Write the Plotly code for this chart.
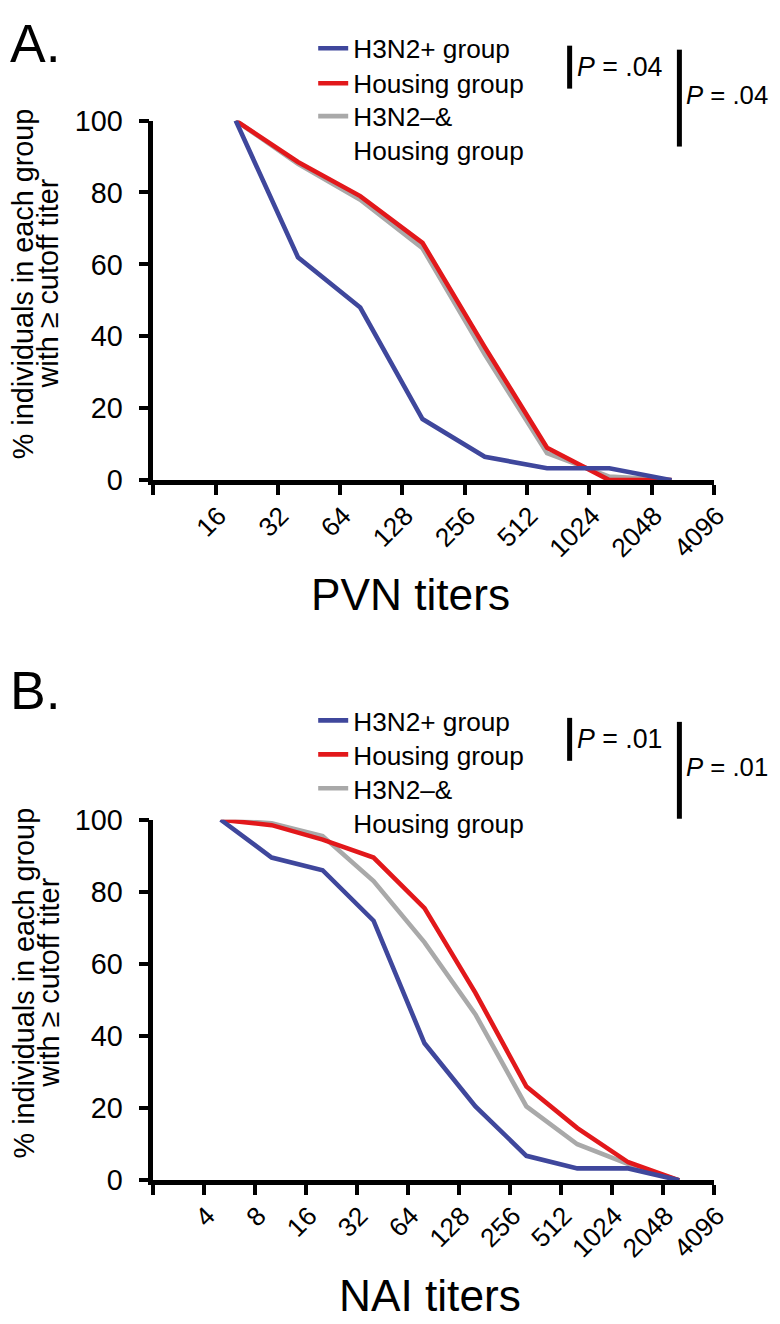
import plotly.graph_objects as go

# Datos (porcentaje con titulo >= corte)
pvn_x = [20, 40, 80, 160, 320, 640, 1280, 2560]
pvn_h3n2 = [100, 62, 48, 17, 6.5, 3.3, 3.3, 0]
pvn_housing = [100, 88.5, 79, 66, 37, 9, 0, 0]
pvn_h3n2neg = [100, 88, 78, 64.5, 35, 7.5, 1, 0]

nai_x = [5, 10, 20, 40, 80, 160, 320, 640, 1280, 2560]
nai_h3n2 = [100, 89.5, 86, 72, 38, 20.5, 6.8, 3.3, 3.3, 0]
nai_housing = [100, 98.5, 94.5, 89.5, 75.5, 52, 26, 14.5, 5, 0]
nai_h3n2neg = [100, 99, 95.5, 83, 66, 46, 20.5, 10, 4.5, 0]

pvn_ticks = [8, 16, 32, 64, 128, 256, 512, 1024, 2048, 4096]
nai_ticks = [2, 4, 8, 16, 32, 64, 128, 256, 512, 1024, 2048, 4096]

nombres = ['H3N2+ group', 'Housing group', 'H3N2\u2013&<br>Housing group']
colores = ['#3f479c', '#e2181b', '#a9a9a9']

W, H = 780, 1324
FONT = 'Liberation Sans, Arial, sans-serif'

# la captura sale algo desplazada/escalada respecto a la figura: se compensa
SX, OX, SY, OY = 0.967, 7.3, 0.977, 22.3


def px(X, Y):
    """Coordenadas de la referencia (pixeles) -> coordenadas paper."""
    return ((X - OX) / SX) / W, 1 - ((Y - OY) / SY) / H


def F(s):
    return s / 0.972


fig = go.Figure()

paneles = [
    (pvn_x, [pvn_h3n2, pvn_housing, pvn_h3n2neg], 'x', 'y', ['legend', 'legend2', 'legend3']),
    (nai_x, [nai_h3n2, nai_housing, nai_h3n2neg], 'x2', 'y2', ['legend4', 'legend5', 'legend6']),
]

for xs, series, xa, ya, legs in paneles:
    # gris abajo, luego rojo, azul encima
    for i in [2, 1, 0]:
        fig.add_trace(go.Scatter(
            x=xs, y=series[i], mode='lines', name=nombres[i],
            line=dict(color=colores[i], width=4.6),
            xaxis=xa, yaxis=ya, legend=legs[i]
        ))

x0, x1 = px(151, 0)[0], px(705, 0)[0]
ejes = dict(showline=True, linewidth=4.6, linecolor='black', ticks='outside',
            ticklen=10, tickwidth=4, tickcolor='black', showgrid=False,
            zeroline=False, tickfont=dict(size=F(28), color='black', family=FONT))

ejex = dict(ejes, type='log', tickangle=-45, tickfont=dict(size=F(25.5), color='black', family=FONT),
            ticklabelstandoff=-5, ticklabelshift=3)

# una leyenda por entrada para fijar el espaciado de filas
leyendas = {}
filas = [(47, 82, 132), (720, 754, 805)]
for k, (r1, r2, r3) in enumerate(filas):
    for j, yy in enumerate([r1, r2, r3]):
        nombre = 'legend' + ('' if k * 3 + j == 0 else str(k * 3 + j + 1))
        leyendas[nombre] = dict(x=px(309, 0)[0], y=px(0, yy)[1], xanchor='left', yanchor='middle',
                                valign='top', bgcolor='rgba(0,0,0,0)', borderwidth=0,
                                font=dict(size=F(25.5), family=FONT, color='black'))

fig.update_layout(
    width=W, height=H,
    margin=dict(l=0, r=0, t=0, b=0),
    paper_bgcolor='white', plot_bgcolor='white',
    showlegend=True,
    font=dict(family=FONT, color='black'),
    xaxis=dict(ejex, domain=[x0, x1], anchor='y', range=[0.903, 3.6124],
               tickvals=pvn_ticks, ticktext=[''] + [str(t) for t in pvn_ticks[1:]]),
    yaxis=dict(ejes, domain=[px(0, 479)[1], px(0, 119)[1]], anchor='x', range=[0, 100],
               tickvals=[0, 20, 40, 60, 80, 100], ticklabelstandoff=10),
    xaxis2=dict(ejex, domain=[x0, x1], anchor='y2', range=[0.30103, 3.6124],
                tickvals=nai_ticks, ticktext=[''] + [str(t) for t in nai_ticks[1:]]),
    yaxis2=dict(ejes, domain=[px(0, 1180)[1], px(0, 819)[1]], anchor='x2', range=[0, 100],
                tickvals=[0, 20, 40, 60, 80, 100], ticklabelstandoff=10),
    **leyendas
)

# Letras de panel, titulos, barras de P
for dy, letra, ly, titulo, tx, ty_t, pval in [(0, 'A.', 42, 'PVN titers', 405, 593, '.04'),
                                              (673, 'B.', 690, 'NAI titers', 424, 1295, '.01')]:
    fig.add_annotation(text=letra, x=0, y=px(0, ly)[1], xref='paper', yref='paper',
                       xanchor='left', yanchor='middle', showarrow=False,
                       font=dict(size=F(52), family=FONT, color='black'))
    fig.add_annotation(text=titulo, x=px(tx, 0)[0], y=px(0, ty_t)[1], xref='paper', yref='paper',
                       xanchor='center', yanchor='middle', showarrow=False,
                       font=dict(size=F(43), family=FONT, color='black'))
    yc = 282 if dy == 0 else 982
    fig.add_annotation(text='% individuals in each group', x=px(23, 0)[0], y=px(0, yc)[1],
                       xref='paper', yref='paper', textangle=-90, showarrow=False,
                       xanchor='center', yanchor='middle', font=dict(size=F(28), family=FONT, color='black'))
    fig.add_annotation(text='with \u2265 cutoff titer', x=px(47, 0)[0], y=px(0, yc)[1],
                       xref='paper', yref='paper', textangle=-90, showarrow=False,
                       xanchor='center', yanchor='middle', font=dict(size=F(28), family=FONT, color='black'))
    for bx, by0, by1, ty, fs in [(562.5, 44, 87, 65, 26), (671, 48, 145, 93, 25)]:
        fig.add_shape(type='line', xref='paper', yref='paper',
                      x0=px(bx, 0)[0], x1=px(bx, 0)[0], y0=px(0, by0 + dy)[1], y1=px(0, by1 + dy)[1],
                      line=dict(color='black', width=5))
        fig.add_annotation(text='<i>P</i> = ' + pval, x=px(bx + 5, 0)[0], y=px(0, ty + dy)[1],
                           xref='paper', yref='paper', xanchor='left', yanchor='middle', showarrow=False,
                           font=dict(size=F(fs), family=FONT, color='black'))

fig.write_html('out.html')
